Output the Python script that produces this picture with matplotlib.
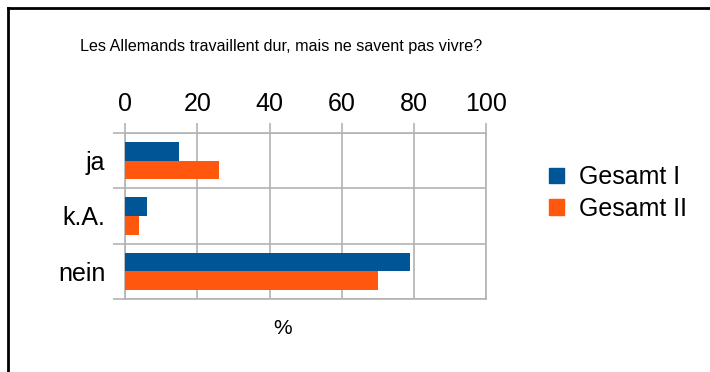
import matplotlib

matplotlib.use("Agg")
import matplotlib.pyplot as plt
from matplotlib.lines import Line2D
from matplotlib.patches import Patch
import numpy as np

plt.rcParams["font.family"] = ["Liberation Sans", "DejaVu Sans"]

categories = ["ja", "k.A.", "nein"]
gesamt_1 = [15, 6, 79]
gesamt_2 = [26, 4, 70]
series_names = ["Gesamt I", "Gesamt II"]
colors = ["#005596", "#ff580e"]
x_ticks = [0, 20, 40, 60, 80, 100]

grid_color = "#b3b3b3"

fig = plt.figure(figsize=(7.1, 3.72), dpi=100)
ax = fig.add_axes((0.176, 0.196, 0.509, 0.447))

y = np.arange(len(categories))
bar_h = 0.335
ax.barh(y - bar_h / 2, gesamt_1, height=bar_h, color=colors[0], zorder=3)
ax.barh(y + bar_h / 2, gesamt_2, height=bar_h, color=colors[1], zorder=3)

ax.set_xlim(0, 100)
ax.set_ylim(len(categories) - 0.5, -0.5)

# x axis on top, values every 20
ax.xaxis.tick_top()
ax.set_xticks(x_ticks)
ax.tick_params(axis="x", which="major", length=7, width=1.2, color=grid_color,
               pad=5, labelsize=18)
ax.grid(axis="x", color=grid_color, linewidth=1.2, zorder=0)

# category labels in the middle of each band, ticks on the band edges
ax.set_yticks(y)
ax.set_yticklabels(categories)
ax.tick_params(axis="y", which="major", length=0, pad=14, labelsize=18)
ax.set_yticks(np.arange(len(categories) + 1) - 0.5, minor=True)
ax.tick_params(axis="y", which="minor", length=9, width=1.2, color=grid_color)
ax.grid(axis="y", which="minor", color=grid_color, linewidth=1.2, zorder=0)

for spine in ax.spines.values():
    spine.set_color(grid_color)
    spine.set_linewidth(1.2)

fig.text(281 / 710, 1 - 47 / 372, "Les Allemands travaillent dur, mais ne savent pas vivre?",
         ha="center", va="center", fontsize=11.6)
fig.text(283 / 710, 1 - 328 / 372, "%", ha="center", va="center", fontsize=15)

handles = [Patch(facecolor=c, edgecolor=c) for c in colors]
fig.legend(handles, series_names, loc="center left",
           bbox_to_anchor=(539 / 710, 1 - 193 / 372), frameon=False,
           fontsize=18, handlelength=0.6, handleheight=0.6, handletextpad=0.6,
           labelspacing=0.3, borderaxespad=0)

# outer frame, only the left and top edges show
fig.add_artist(Line2D([8 / 710, 8 / 710], [0, 1 - 8 / 372], color="black",
                      linewidth=2, transform=fig.transFigure))
fig.add_artist(Line2D([8 / 710, 1], [1 - 8 / 372, 1 - 8 / 372], color="black",
                      linewidth=2, transform=fig.transFigure))

fig.savefig("out.png", dpi=100)
